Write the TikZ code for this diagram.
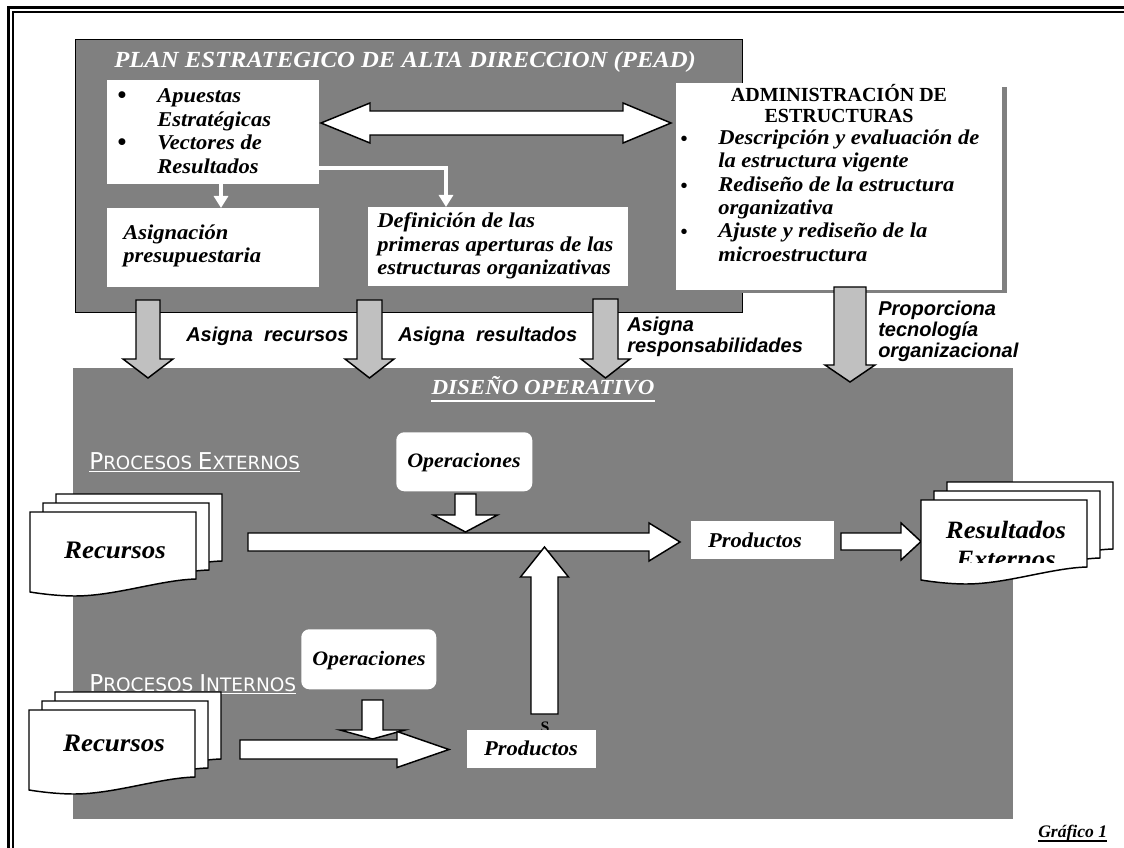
\documentclass[tikz,border=0pt]{standalone}
\usepackage{fontspec}
\setmainfont{Liberation Serif}
\newfontfamily\serw{Liberation Serif}[FakeStretch=1.07]
\newfontfamily\sern{Liberation Serif}
\newfontfamily\sanl{Liberation Sans}
\newfontfamily\procf{DejaVu Sans}
\usetikzlibrary{calc,arrows.meta}
\definecolor{boxgray}{HTML}{808080}
\definecolor{arrgray}{HTML}{C0C0C0}
\newcommand\setfs[1]{\fontsize{#1}{#1}\selectfont}
% vertical block arrow: style, xc, y0, ytip, half shaft, half head, head length (signed)
\newcommand\varrow[7]{\path[#1] ({#2-#5},{#3}) -- ({#2+#5},{#3}) -- ({#2+#5},{#4-(#7)}) -- ({#2+#6},{#4-(#7)}) -- ({#2},{#4}) -- ({#2-#6},{#4-(#7)}) -- ({#2-#5},{#4-(#7)}) -- cycle;}
% horizontal block arrow: style, x0, xtip, yc, half shaft, half head, head length
\newcommand\harrow[7]{\path[#1] ({#2},{#4-#5}) -- ({#3-(#7)},{#4-#5}) -- ({#3-(#7)},{#4-#6}) -- ({#3},{#4}) -- ({#3-(#7)},{#4+#6}) -- ({#3-(#7)},{#4+#5}) -- ({#2},{#4+#5}) -- cycle;}
\newcommand\docpage[2]{\path[docst] ({#1},{#2}) -- ({#1+166},{#2}) -- ({#1+166},{#2+67}) .. controls ({#1+130},{#2+68}) and ({#1+85},{#2+84}) .. ({#1+45},{#2+84}) .. controls ({#1+30},{#2+84}) and ({#1+12},{#2+82}) .. ({#1},{#2+80}) -- cycle;}
\newcommand\docstack[2]{\docpage{#1+26}{#2-18}\docpage{#1+13}{#2-9}\docpage{#1}{#2}}
\begin{document}
\begin{tikzpicture}[x=0.75pt,y=-0.75pt,
  sz/.style 2 args={minimum width=#1*0.75pt, minimum height=#2*0.75pt},
  wbox/.style={fill=white, inner sep=0pt, outer sep=0pt, anchor=north west},
  tb/.style={inner sep=0pt, anchor=base west, font=\serw\bfseries\itshape\setfs{15.8}},
  tbc/.style={tb, anchor=base},
  bul/.style={inner sep=0pt, anchor=base, font=\sern\bfseries\setfs{19}},
  lab/.style={inner sep=0pt, anchor=base west, font=\sanl\bfseries\itshape\setfs{15}},
  blk/.style={draw=black, line width=1.1pt, fill=white, line join=miter},
  gblk/.style={blk, fill=arrgray},
  docst/.style={draw=black, line width=1.1pt, fill=white},
  warr/.style={draw=white, line width=3.6pt, -{Triangle[width=10.5pt,length=9pt]}},
]
\useasboundingbox (0,0) rectangle (1124,848);
\fill[white] (0,0) rectangle (1124,848);
% page border
\draw[line width=2pt] (8.5,860) -- (8.5,7.5) -- (1135,7.5);
\draw[line width=1.1pt] (13,860) -- (13,12) -- (1135,12);

% ===== PEAD =====
\node[draw=black, line width=1.1pt, fill=boxgray, anchor=north west, inner sep=0pt, sz={667}{273}] (pead) at (75,39) {};
\node[tb, text=white, font=\serw\bfseries\itshape\setfs{17.3}] (peadt) at (114,68) {PLAN ESTRATEGICO DE ALTA DIRECCION (PEAD)};

\node[wbox, sz={212}{104}] (apu) at (107,80) {};
\node[bul] (apb1) at (122,104) {\textbullet};
\node[tb] (ap1) at (157,103) {Apuestas};
\node[tb] (ap2) at (157,127) {Estratégicas};
\node[bul] (apb2) at (122,151) {\textbullet};
\node[tb] (ap3) at (157,150) {Vectores de};
\node[tb] (ap4) at (157,174) {Resultados};

\node[wbox, sz={212}{79}] (asg) at (107,208) {};
\node[tb] (asg1) at (123,240) {Asignación};
\node[tb] (asg2) at (123,263) {presupuestaria};

\node[wbox, sz={260}{79}] (def) at (368,207) {};
\node[tb] (def1) at (377,228) {Definición de las};
\node[tb] (def2) at (377,252) {primeras aperturas de las};
\node[tb] (def3) at (377,275) {estructuras organizativas};

\draw[warr] ($(apu.south)+(8,0)$) -- ($(asg.north)+(8,0)$);
\draw[warr] ($(apu.south east)+(0,-16)$) -| ($(def.north west)+(78,0)$);

% ===== ADMINISTRACION =====
\fill[boxgray] (681,87) rectangle (1007,293);
\node[wbox, sz={326}{207}] (adm) at (676,83) {};
\node[inner sep=0pt, anchor=base, font=\sern\bfseries\setfs{15}] (admh1) at (839,102) {ADMINISTRACIÓN DE};
\node[inner sep=0pt, anchor=base, font=\sern\bfseries\setfs{15}] (admh2) at (839,123) {ESTRUCTURAS};
\node[bul, font=\sern\bfseries\setfs{15}] (adb1) at (684,146) {\textbullet};
\node[tb] (ad1) at (718,145) {Descripción y evaluación de};
\node[tb] (ad2) at (718,168) {la estructura vigente};
\node[bul, font=\sern\bfseries\setfs{15}] (adb2) at (684,193) {\textbullet};
\node[tb] (ad3) at (718,192) {Rediseño de la estructura};
\node[tb] (ad4) at (718,215) {organizativa};
\node[bul, font=\sern\bfseries\setfs{15}] (adb3) at (684,239) {\textbullet};
\node[tb] (ad5) at (718,238) {Ajuste y rediseño de la};
\node[tb] (ad6) at (718,262) {microestructura};

% double arrow
\path[blk] (321,123) -- (370,103) -- (370,111) -- (623,111) -- (623,103) -- (671,123) -- (623,143) -- (623,135) -- (370,135) -- (370,143) -- cycle;

% ===== DISEÑO OPERATIVO =====
\node[fill=boxgray, anchor=north west, inner sep=0pt, sz={940}{451}] (dis) at (73,368) {};
\node[inner sep=0pt, anchor=base, text=white, font=\serw\bfseries\itshape\setfs{16.1}] (dist) at (543,395) {DISEÑO OPERATIVO};
\draw[white, line width=1.2pt] ($(dist.base west)+(0,6)$) -- ($(dist.base east)+(0,6)$);

% gray arrows
\varrow{gblk}{148}{300}{378}{12}{25}{19}
\varrow{gblk}{369.5}{300}{378}{12.5}{24.5}{19}
\varrow{gblk}{605.5}{299}{378}{12.5}{24.5}{19}
\varrow{gblk}{850}{287}{382}{16}{25}{17}

\node[lab] (l1) at (186,342) {Asigna~~recursos};
\node[lab] (l2) at (398,342) {Asigna~~resultados};
\node[lab] (l3a) at (627,332) {Asigna};
\node[lab] (l3b) at (627,353) {responsabilidades};
\node[lab] (l4a) at (878,316) {Proporciona};
\node[lab] (l4b) at (878,337) {tecnología};
\node[lab] (l4c) at (878,358) {organizacional};

% ===== procesos externos =====
\node[inner sep=0pt, anchor=base west, text=white, font=\procf] (pext) at (89,469) {\setfs{17.4}P\setfs{13.7}ROCESOS \setfs{17.4}E\setfs{13.7}XTERNOS};
\draw[white, line width=0.9pt] ($(pext.base west)+(0,2.5)$) -- ($(pext.base east)+(0,2.5)$);

\node[fill=white, rounded corners=6pt, anchor=north west, inner sep=0pt, sz={136}{59}] (op1) at (396,432) {};
\node[tbc, font=\serw\bfseries\itshape\setfs{15.4}] (op1t) at (464,467) {Operaciones};
\varrow{blk}{465.5}{494}{532}{10.5}{32}{17}
\harrow{blk}{248}{680}{542}{9}{19}{31}

\node[wbox, sz={143}{38}] (pr1) at (691,521) {};
\node[tbc] (pr1t) at (755,547) {Productos};
\harrow{blk}{841}{921}{541.5}{8.5}{18.5}{20}

\docstack{921}{500}
\node[tbc, font=\serw\bfseries\itshape\setfs{18.7}] (res1) at (1006,538) {Resultados};
\begin{scope}
\clip (925,545) rectangle (1085,562);
\node[tbc, font=\serw\bfseries\itshape\setfs{18.7}] (res2) at (1006,567) {Externos};
\end{scope}

\docstack{30}{512}
\node[tbc, font=\serw\bfseries\itshape\setfs{18.9}] (rec1) at (115,558) {Recursos};

% ===== procesos internos =====
\node[inner sep=0pt, anchor=base west, text=white, font=\procf] (pint) at (89,691) {\setfs{17.4}P\setfs{13.9}ROCESOS \setfs{17.4}I\setfs{13.9}NTERNOS};
\draw[white, line width=0.9pt] ($(pint.base west)+(0,2.5)$) -- ($(pint.base east)+(0,2.5)$);

\node[fill=white, rounded corners=6pt, anchor=north west, inner sep=0pt, sz={135}{60}] (op2) at (301,629) {};
\node[tbc, font=\serw\bfseries\itshape\setfs{15.4}] (op2t) at (369,665) {Operaciones};
\varrow{blk}{372.5}{700}{739}{10.5}{32.5}{9}
\harrow{blk}{240}{449}{749.5}{9.5}{18}{52}

\node[inner sep=0pt, anchor=base, font=\sern\bfseries\setfs{12}] (slab) at (545,732) {S};
\node[wbox, sz={129}{38}] (pr2) at (467,730) {};
\node[tbc] (pr2t) at (531,755) {Productos};

\varrow{blk}{544.5}{714}{547}{13.5}{24}{-30}

\docstack{29}{710}
\node[tbc, font=\serw\bfseries\itshape\setfs{18.9}] (rec2) at (114,751) {Recursos};

% caption
\node[inner sep=0pt, anchor=base west, font=\sern\bfseries\itshape\setfs{13.2}] (graf) at (1038,837) {Gráfico 1};
\draw[line width=0.9pt] ($(graf.base west)+(0,4)$) -- ($(graf.base east)+(0,4)$);
\end{tikzpicture}
\end{document}
